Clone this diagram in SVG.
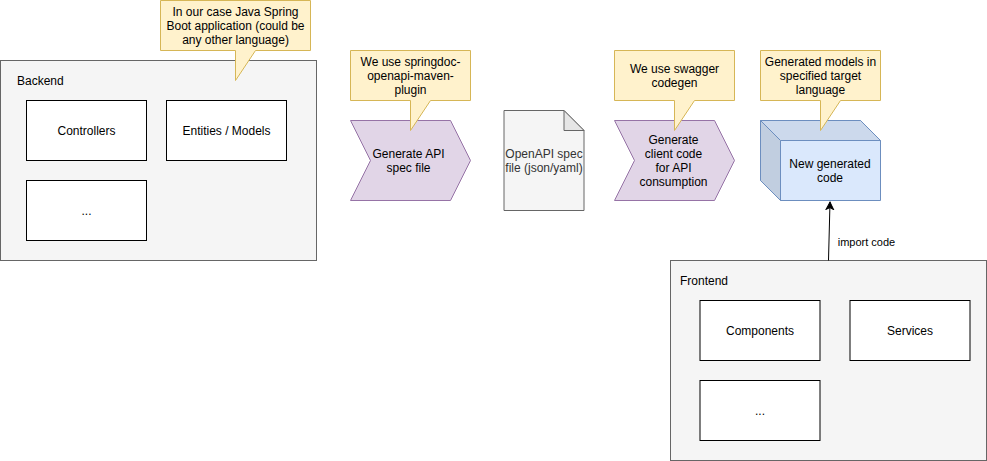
<svg xmlns="http://www.w3.org/2000/svg" width="987" height="461" viewBox="0 0 987 461">
<defs>
<style>
text{font-family:"Liberation Sans",Arial,Helvetica,sans-serif;font-size:12px;fill:#000;text-anchor:middle}
.c{fill:#f5f5f5;stroke:#666}
.b{fill:#fff;stroke:#000}
.n{fill:#fff2cc;stroke:#d6b656}
.p{fill:#e1d5e7;stroke:#9673a6}
.l{text-anchor:start}
.g{fill:#333}
.s{font-size:11px}
</style>
<marker id="arrow" markerUnits="userSpaceOnUse" markerWidth="10" markerHeight="10" refX="8" refY="5" orient="auto"><path d="M0.5 1.2L8 5L0.5 8.8L2.4 5Z" fill="#000" stroke="#000"/></marker>
</defs>
<g id="backend"><rect class="c" x="0.5" y="60.5" width="316" height="200"/><text class="l" x="17" y="85">Backend</text></g>
<g id="controllers"><rect class="b" x="26.5" y="100.5" width="120" height="60"/><text x="86.5" y="135">Controllers</text></g>
<g id="entities"><rect class="b" x="166.5" y="100.5" width="120" height="60"/><text x="226.5" y="135">Entities / Models</text></g>
<g id="backend-more"><rect class="b" x="26.5" y="180.5" width="120" height="60"/><text x="86.5" y="215">...</text></g>
<g id="note-java"><path class="n" d="M160.5 0.5H310.5V50.5H255.5L235.5 80.5V50.5H160.5Z"/><text x="235.5" y="16">In our case Java Spring</text><text x="235.5" y="30">Boot application (could be</text><text x="235.5" y="44">any other language)</text></g>
<g id="generate-spec"><path class="p" d="M350.5 120.5H450.5L470.5 160.5L450.5 200.5H350.5L370.5 160.5Z"/><text x="408.5" y="158">Generate API</text><text x="408.5" y="172">spec file</text></g>
<g id="note-springdoc"><path class="n" d="M350.5 50.5H470.5V100.5H430.5L410.5 130.5V100.5H350.5Z"/><text x="410.5" y="66">We use springdoc-</text><text x="410.5" y="80">openapi-maven-</text><text x="410.5" y="94">plugin</text></g>
<g id="openapi-file"><path class="c" d="M504 110.5H564L584 130.5V210.5H504Z"/><path d="M564 110.5V130.5H584Z" fill="#e6e6e6" stroke="#666"/><text class="g" x="544" y="158">OpenAPI spec</text><text class="g" x="544" y="172">file (json/yaml)</text></g>
<g id="generate-client"><path class="p" d="M614.5 120.5H714.5L734.5 160.5L714.5 200.5H614.5L634.5 160.5Z"/><text x="673.5" y="144">Generate</text><text x="673.5" y="158">client code</text><text x="673.5" y="172">for API</text><text x="673.5" y="186">consumption</text></g>
<g id="note-swagger"><path class="n" d="M614.5 50.5H734.5V100.5H694.5L674.5 130.5V100.5H614.5Z"/><text x="674.5" y="73">We use swagger</text><text x="674.5" y="87">codegen</text></g>
<g id="generated-code"><path d="M760.5 120.5H860.5L880.5 140.5V200.5H780.5L760.5 180.5Z" fill="#dae8fc" stroke="#6c8ebf"/><path d="M760.5 120.5L780.5 140.5V200.5L760.5 180.5Z" fill="#c1cee0" stroke="#6c8ebf"/><path d="M760.5 120.5H860.5L880.5 140.5H780.5Z" fill="#ccd9ec" stroke="#6c8ebf"/><text x="830" y="168">New generated</text><text x="830" y="182">code</text></g>
<g id="note-models"><path class="n" d="M760.5 50.5H880.5V100.5H840.5L820.5 130.5V100.5H760.5Z"/><text x="820.5" y="66">Generated models in</text><text x="820.5" y="80">specified target</text><text x="820.5" y="94">language</text></g>
<g id="frontend"><rect class="c" x="670.5" y="260.5" width="316" height="200"/><text class="l" x="680" y="285">Frontend</text></g>
<g id="components"><rect class="b" x="700" y="300.5" width="120" height="60"/><text x="760" y="335">Components</text></g>
<g id="services"><rect class="b" x="850" y="300.5" width="120" height="60"/><text x="910" y="335">Services</text></g>
<g id="frontend-more"><rect class="b" x="700" y="380.5" width="120" height="60"/><text x="760" y="415">...</text></g>
<g id="connectors"><path d="M828.5 260.5L830 202" fill="none" stroke="#000" marker-end="url(#arrow)"/><text class="s" x="866.5" y="246">import code</text></g>
</svg>
